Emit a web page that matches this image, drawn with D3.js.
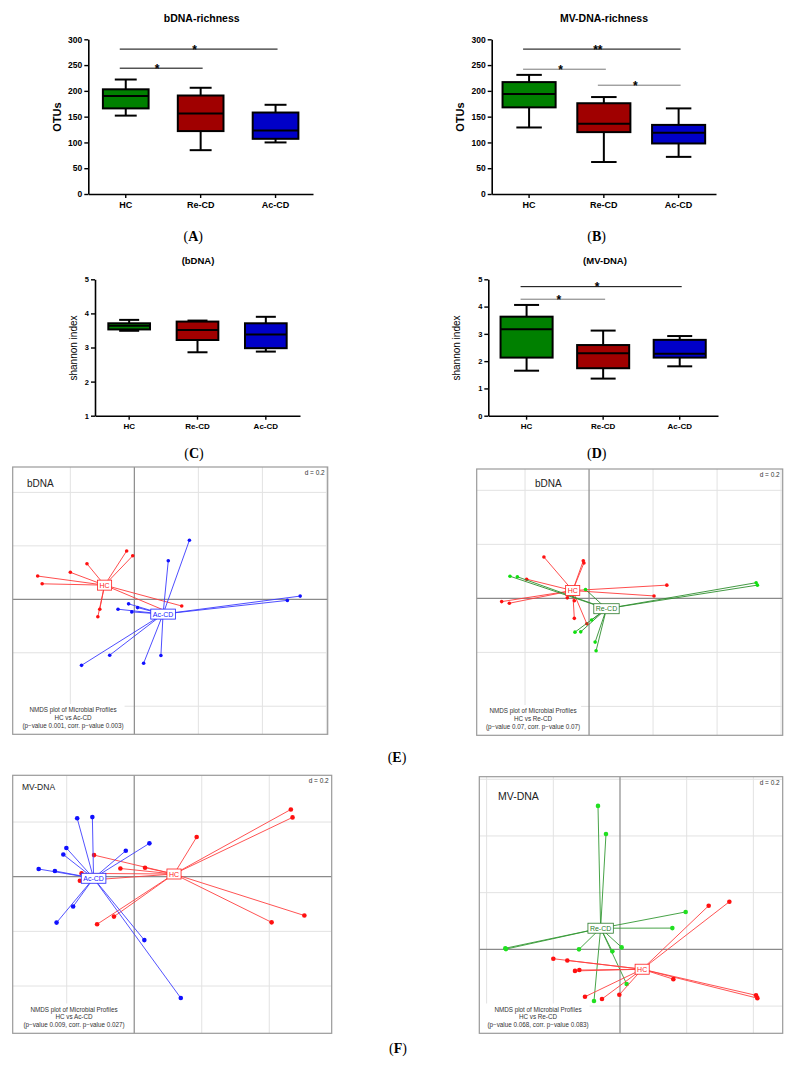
<!DOCTYPE html>
<html>
<head>
<meta charset="utf-8">
<script src="https://cdn.jsdelivr.net/npm/d3@7"></script>
<style>body{margin:0;background:#fff}</style>
</head>
<body>
<script>
// groups and box fill colours
const groups = ["HC", "Re-CD", "Ac-CD"];
const groupFill = ["#008000", "#a00000", "#0000c8"];

// box stats per group: [min, q1, median, q3, max]
const richBdna = [[152, 166, 190, 203, 222], [85, 122, 156, 191, 206], [100, 107, 123, 158, 173]];
const richMv = [[129, 168, 194, 217, 231], [62, 120, 136, 176, 188], [72, 98, 119, 134, 166]];
const shanBdna = [[3.49, 3.53, 3.64, 3.71, 3.81], [2.86, 3.22, 3.51, 3.76, 3.79], [2.88, 2.98, 3.38, 3.71, 3.90]];
const shanMv = [[1.65, 2.13, 3.17, 3.63, 4.06], [1.36, 1.74, 2.29, 2.59, 3.12], [1.81, 2.13, 2.27, 2.78, 2.92]];

// significance bars: [from group, to group, value, label, colour]
const sigA = [[0, 2, 281, "*", "#000"], [0, 1, 244, "*", "#000"]];
const sigB = [[0, 2, 281, "**", "#000"], [0, 1, 242, "*", "#777"], [1, 2, 211, "*", "#777"]];
const sigC = [];
const sigD = [[0, 2, 4.73, "*", "#000"], [0, 1, 4.27, "*", "#777"]];

// NMDS coordinates [x, y]
const eLeftHC = [[-0.302, 0.087], [-0.288, 0.058], [-0.200, 0.101], [-0.148, 0.133], [-0.024, 0.181], [-0.005, 0.163],
  [-0.102, 0.041], [-0.076, 0.045], [-0.108, -0.037], [-0.114, -0.065], [0.148, -0.025], [0.103, -0.046]];
const eLeftAc = [[0.172, 0.221], [0.106, 0.144], [0.518, 0.012], [0.478, -0.004], [-0.018, -0.017], [0.010, -0.031],
  [-0.051, -0.037], [-0.008, -0.047], [-0.165, -0.247], [-0.077, -0.209], [0.029, -0.239], [0.083, -0.210]];
const eRightHC = [[-0.141, 0.153], [-0.018, 0.139], [-0.016, 0.131], [-0.195, 0.071], [-0.273, -0.012], [-0.249, -0.018],
  [0.243, 0.049], [0.203, 0.009], [-0.046, -0.009], [-0.068, 0.002], [-0.046, -0.074], [-0.007, -0.094]];
const eRightRe = [[-0.247, 0.082], [-0.224, 0.080], [0.522, 0.058], [0.526, 0.049], [-0.044, -0.125], [-0.026, -0.124],
  [0.019, -0.162], [0.022, -0.194], [-0.011, 0.033], [0.008, -0.080]];
const fLeftHC = [[0.464, 0.246], [0.469, 0.217], [0.185, 0.145], [-0.119, 0.079], [-0.041, 0.030], [0.032, 0.033],
  [-0.156, 0.012], [-0.161, -0.015], [-0.060, -0.146], [-0.110, -0.174], [0.407, -0.167], [0.504, -0.142]];
const fLeftAc = [[-0.169, 0.214], [-0.124, 0.218], [-0.201, 0.105], [-0.210, 0.081], [-0.283, 0.028], [-0.235, 0.021],
  [-0.025, 0.095], [0.045, 0.122], [-0.181, -0.109], [-0.230, -0.168], [0.030, -0.232], [0.138, -0.444]];
const fRightRe = [[-0.066, 0.506], [-0.042, 0.407], [0.197, 0.132], [0.157, 0.075], [-0.344, 0.004], [-0.342, 0.001],
  [-0.123, 0.000], [0.005, 0.007], [-0.023, -0.007], [0.020, -0.122], [-0.078, -0.182]];
const fRightHC = [[0.266, 0.154], [0.328, 0.168], [-0.200, -0.033], [-0.158, -0.039], [-0.135, -0.076], [-0.122, -0.073],
  [0.160, -0.105], [0.408, -0.162], [0.412, -0.172], [-0.105, -0.167], [-0.054, -0.175], [-0.002, -0.160]];

const notes = {
  eLeft: ["NMDS plot of Microbial Profiles", "HC vs Ac-CD", "(p\u2212value 0.001, corr. p\u2212value 0.003)"],
  eRight: ["NMDS plot of Microbial Profiles", "HC vs Re-CD", "(p\u2212value 0.07, corr. p\u2212value 0.07)"],
  fLeft: ["NMDS plot of Microbial Profiles", "HC vs Ac-CD", "(p\u2212value 0.009, corr. p\u2212value 0.027)"],
  fRight: ["NMDS plot of Microbial Profiles", "HC vs Re-CD", "(p\u2212value 0.068, corr. p\u2212value 0.083)"]
};

const sans = "Arial, 'Liberation Sans', sans-serif";
const serif = "'Times New Roman', 'Liberation Serif', serif";

const svg = d3.select("body").append("svg")
  .attr("width", 795).attr("height", 1071)
  .style("font-family", sans);

// ---------- box plots ----------
function boxPanel(p) {
  const g = svg.append("g");
  const x = d3.scaleBand().domain(groups).range([p.x0, p.x1]);
  const y = d3.scaleLinear().domain(p.domain).range([p.yBottom, p.yTop]);

  const ya = g.append("g").attr("transform", `translate(${p.x0},0)`)
    .call(d3.axisLeft(y).tickValues(p.ticks).tickFormat(d3.format("d")).tickSize(4).tickSizeOuter(0).tickPadding(2));
  const xa = g.append("g").attr("transform", `translate(0,${p.yBottom})`)
    .call(d3.axisBottom(x).tickSize(4).tickSizeOuter(0).tickPadding(4));
  [ya, xa].forEach(a => {
    a.select(".domain").attr("stroke", "#000").attr("stroke-width", 1.6);
    a.selectAll(".tick line").attr("stroke", "#000").attr("stroke-width", 1.4);
    a.selectAll(".tick text").attr("fill", "#000").style("font-family", sans)
      .style("font-weight", "bold").style("font-size", p.tickSize + "px");
  });
  xa.selectAll(".tick text").style("font-size", p.catSize + "px");

  const bw = x.bandwidth() * p.boxRatio;
  const cw = bw * 0.48;
  p.stats.forEach((s, i) => {
    const cx = x(groups[i]) + x.bandwidth() / 2;
    const bg = g.append("g").attr("stroke", "#000").attr("stroke-width", 2);
    bg.append("line").attr("x1", cx).attr("x2", cx).attr("y1", y(s[0])).attr("y2", y(s[4]));
    bg.append("line").attr("x1", cx - cw / 2).attr("x2", cx + cw / 2).attr("y1", y(s[0])).attr("y2", y(s[0]));
    bg.append("line").attr("x1", cx - cw / 2).attr("x2", cx + cw / 2).attr("y1", y(s[4])).attr("y2", y(s[4]));
    bg.append("rect").attr("x", cx - bw / 2).attr("width", bw)
      .attr("y", y(s[3])).attr("height", y(s[1]) - y(s[3]))
      .attr("fill", groupFill[i]);
    bg.append("line").attr("x1", cx - bw / 2).attr("x2", cx + bw / 2).attr("y1", y(s[2])).attr("y2", y(s[2]));
  });

  p.sig.forEach(b => {
    const xa0 = x(groups[b[0]]) + x.bandwidth() / 2 - 6;
    const xa1 = x(groups[b[1]]) + x.bandwidth() / 2 + 2;
    g.append("line").attr("x1", xa0).attr("x2", xa1).attr("y1", y(b[2])).attr("y2", y(b[2]))
      .attr("stroke", b[4]).attr("stroke-width", 1);
    g.append("text").attr("x", (xa0 + xa1) / 2 - 4).attr("y", y(b[2]) + 4.5)
      .attr("text-anchor", "middle").style("font-size", "12px").style("font-weight", "bold")
      .text(b[3]);
  });

  g.append("text").attr("x", p.titleX).attr("y", p.titleY).attr("text-anchor", "middle")
    .style("font-weight", "bold").style("font-size", p.titleSize + "px").text(p.title);
  g.append("text").attr("transform", `translate(${p.ylabX},${p.ylabY}) rotate(-90)`)
    .attr("text-anchor", "middle")
    .style("font-weight", p.ylabBold ? "bold" : "normal").style("font-size", p.ylabSize + "px")
    .text(p.ylab);
}

boxPanel({x0: 88.3, x1: 313, yTop: 39.3, yBottom: 194, domain: [0, 300], ticks: d3.range(0, 301, 50),
  stats: richBdna, boxRatio: 0.61, sig: sigA, tickSize: 8.5, catSize: 9,
  title: "bDNA-richness", titleX: 201.7, titleY: 22, titleSize: 10.5,
  ylab: "OTUs", ylabX: 61, ylabY: 117, ylabBold: true, ylabSize: 11});
boxPanel({x0: 491.7, x1: 716, yTop: 39.3, yBottom: 194, domain: [0, 300], ticks: d3.range(0, 301, 50),
  stats: richMv, boxRatio: 0.71, sig: sigB, tickSize: 8.5, catSize: 9,
  title: "MV-DNA-richness", titleX: 604, titleY: 22, titleSize: 10.5,
  ylab: "OTUs", ylabX: 464, ylabY: 117, ylabBold: true, ylabSize: 11});
boxPanel({x0: 95, x1: 300, yTop: 279.3, yBottom: 415.7, domain: [1, 5], ticks: [1, 2, 3, 4, 5],
  stats: shanBdna, boxRatio: 0.61, sig: sigC, tickSize: 7.5, catSize: 8,
  title: "(bDNA)", titleX: 198, titleY: 263.5, titleSize: 9.5,
  ylab: "shannon index", ylabX: 77, ylabY: 348, ylabBold: false, ylabSize: 10});
boxPanel({x0: 488.3, x1: 718, yTop: 279.3, yBottom: 415.7, domain: [0, 5], ticks: [0, 1, 2, 3, 4, 5],
  stats: shanMv, boxRatio: 0.68, sig: sigD, tickSize: 7.5, catSize: 8,
  title: "(MV-DNA)", titleX: 605, titleY: 263.5, titleSize: 9.5,
  ylab: "shannon index", ylabX: 460, ylabY: 348, ylabBold: false, ylabSize: 10});

// ---------- NMDS (s.class style) ----------
function nmdsPanel(p) {
  const g = svg.append("g");
  const x = d3.scaleLinear().domain(p.xDom).range([p.left, p.right]);
  const y = d3.scaleLinear().domain(p.yDom).range([p.bottom, p.top]);
  const step = 0.2;

  const gx = d3.range(Math.ceil(p.xDom[0] / step), Math.floor(p.xDom[1] / step) + 1).filter(k => k !== 0);
  const gy = d3.range(Math.ceil(p.yDom[0] / step), Math.floor(p.yDom[1] / step) + 1).filter(k => k !== 0);
  g.selectAll(".gx").data(gx).join("line")
    .attr("x1", k => x(k * step)).attr("x2", k => x(k * step)).attr("y1", p.top).attr("y2", p.bottom)
    .attr("stroke", "#e2e2e2").attr("stroke-width", 1);
  g.selectAll(".gy").data(gy).join("line")
    .attr("y1", k => y(k * step)).attr("y2", k => y(k * step)).attr("x1", p.left).attr("x2", p.right)
    .attr("stroke", "#e2e2e2").attr("stroke-width", 1);
  g.append("line").attr("x1", x(0)).attr("x2", x(0)).attr("y1", p.top).attr("y2", p.bottom)
    .attr("stroke", "#8a8a8a").attr("stroke-width", 1.2);
  g.append("line").attr("y1", y(0)).attr("y2", y(0)).attr("x1", p.left).attr("x2", p.right)
    .attr("stroke", "#8a8a8a").attr("stroke-width", 1.2);

  p.sets.forEach(s => {
    const cx = d3.mean(s.pts, d => d[0]), cy = d3.mean(s.pts, d => d[1]);
    g.append("g").selectAll("line").data(s.pts).join("line")
      .attr("x1", x(cx)).attr("y1", y(cy)).attr("x2", d => x(d[0])).attr("y2", d => y(d[1]))
      .attr("stroke", s.line).attr("stroke-width", 0.9);
    g.append("g").selectAll("circle").data(s.pts).join("circle")
      .attr("cx", d => x(d[0])).attr("cy", d => y(d[1])).attr("r", p.r).attr("fill", s.pt);
    s.c = [cx, cy];
  });
  p.sets.forEach(s => {
    const t = g.append("text").attr("x", x(s.c[0])).attr("y", y(s.c[1]) + 2.5)
      .attr("text-anchor", "middle").style("font-size", "7px").attr("fill", s.lab).text(s.name);
    const w = t.node().getComputedTextLength();
    g.insert("rect", () => t.node()).attr("x", x(s.c[0]) - w / 2 - 2).attr("y", y(s.c[1]) - 5)
      .attr("width", w + 4).attr("height", 10).attr("fill", "#fff").attr("stroke", s.lab).attr("stroke-width", 0.8);
  });

  g.append("text").attr("x", p.right - 3).attr("y", p.top + 8).attr("text-anchor", "end")
    .style("font-size", "6.5px").attr("fill", "#333").text("d = 0.2");
  g.append("text").attr("x", p.titleX).attr("y", p.titleY).style("font-size", p.titleSize + "px")
    .attr("fill", "#222").text(p.title);

  const nt = g.append("g");
  const texts = p.note.map((n, i) => nt.append("text").attr("x", p.noteX).attr("y", p.noteY + i * 7.8)
    .attr("text-anchor", "middle").style("font-size", "6.3px").attr("fill", "#333").text(n));
  const nw = d3.max(texts, t => t.node().getComputedTextLength());
  nt.insert("rect", "text").attr("x", p.left).attr("y", p.noteY - 8)
    .attr("width", p.noteX - p.left + nw / 2 + 1).attr("height", p.bottom - p.noteY + 8).attr("fill", "#fff");

  g.append("rect").attr("x", p.left).attr("y", p.top).attr("width", p.right - p.left)
    .attr("height", p.bottom - p.top).attr("fill", "none").attr("stroke", "#9a9a9a").attr("stroke-width", 1.2);
}

nmdsPanel({left: 12.7, right: 327.7, top: 467, bottom: 734.3, xDom: [-0.380, 0.604], yDom: [-0.505, 0.495], r: 1.8,
  sets: [{name: "HC", pts: eLeftHC, line: "#ff3a3a", pt: "#ff1010", lab: "#ff2020"},
         {name: "Ac-CD", pts: eLeftAc, line: "#3a3aff", pt: "#1010ff", lab: "#2020ff"}],
  title: "bDNA", titleX: 27, titleY: 487, titleSize: 10,
  note: notes.eLeft, noteX: 73, noteY: 712});
nmdsPanel({left: 476.7, right: 782.7, top: 469, bottom: 735.3, xDom: [-0.351, 0.605], yDom: [-0.507, 0.479], r: 1.8,
  sets: [{name: "HC", pts: eRightHC, line: "#ff3a3a", pt: "#ff1010", lab: "#ff2020"},
         {name: "Re-CD", pts: eRightRe, line: "#2f8f2f", pt: "#10e010", lab: "#2a7a2a"}],
  title: "bDNA", titleX: 535, titleY: 487, titleSize: 10,
  note: notes.eRight, noteX: 533, noteY: 713});
nmdsPanel({left: 12.7, right: 331.7, top: 775.3, bottom: 1033.3, xDom: [-0.360, 0.585], yDom: [-0.573, 0.371], r: 2.3,
  sets: [{name: "HC", pts: fLeftHC, line: "#ff4040", pt: "#ff1010", lab: "#ff2020"},
         {name: "Ac-CD", pts: fLeftAc, line: "#4040ff", pt: "#1010ff", lab: "#2020ff"}],
  title: "MV-DNA", titleX: 22, titleY: 790, titleSize: 8.5,
  note: notes.fLeft, noteX: 74, noteY: 1011.5});
nmdsPanel({left: 479.3, right: 782.7, top: 776.7, bottom: 1033.3, xDom: [-0.422, 0.488], yDom: [-0.296, 0.609], r: 2.3,
  sets: [{name: "Re-CD", pts: fRightRe, line: "#339933", pt: "#20e020", lab: "#2a7a2a"},
         {name: "HC", pts: fRightHC, line: "#ff4040", pt: "#ff1010", lab: "#ff2020"}],
  title: "MV-DNA", titleX: 498, titleY: 800, titleSize: 10.5,
  note: notes.fRight, noteX: 538, noteY: 1011.5});

// ---------- panel captions ----------
const captions = [["A", 193.3, 241], ["B", 596.7, 241], ["C", 194, 458], ["D", 596.7, 458], ["E", 397, 762], ["F", 398, 1053]];
captions.forEach(c => {
  const t = svg.append("text").attr("x", c[1]).attr("y", c[2]).attr("text-anchor", "middle")
    .style("font-family", serif).style("font-size", "14px");
  t.append("tspan").text("(");
  t.append("tspan").style("font-weight", "bold").text(c[0]);
  t.append("tspan").text(")");
});
</script>
</body>
</html>
